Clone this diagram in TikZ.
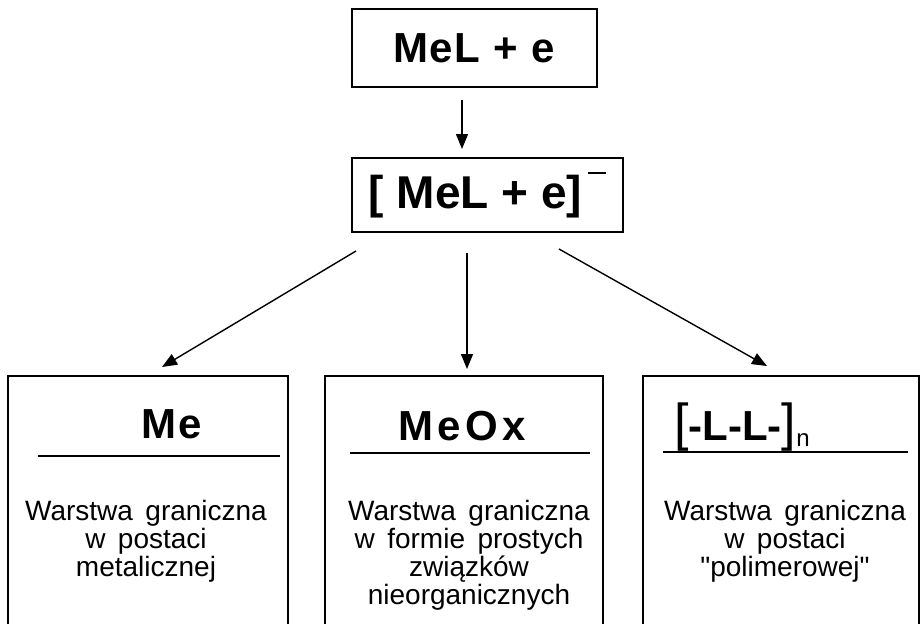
\documentclass[tikz,border=0pt]{standalone}
\usepackage{fontspec}
\setmainfont{Liberation Sans}
\newfontfamily\headfont[LetterSpace=4]{Liberation Sans}
\newfontfamily\bodyfont[WordSpace=1.6]{Liberation Sans}
\usetikzlibrary{arrows.meta}

\tikzset{
	box/.style={rectangle,draw,line width=1pt,inner sep=0pt},
	head/.style={inner sep=0pt,font=\headfont\bfseries\fontsize{21pt}{21pt}\selectfont},
	body/.style={inner sep=0pt,align=center,font=\bodyfont\fontsize{14pt}{14pt}\selectfont},
	arr/.style={-{Triangle[length=7.5pt,width=6pt]},line width=0.7pt},
}

\begin{document}
\begin{tikzpicture}[x=0.5pt,y=-0.5pt]
	\useasboundingbox (0,0) rectangle (921,623);
	\clip (0,0) rectangle (921,623);
	\node[box,minimum width=122.5pt,minimum height=39pt,font=\headfont\bfseries\fontsize{21pt}{21pt}\selectfont] (reagent) at (474,48) {MeL + e};
	\node[box,minimum width=135.5pt,minimum height=37pt,font=\bfseries\fontsize{23pt}{23pt}\selectfont] (anion) at (487.5,195) {[ MeL + e]\kern3pt\raisebox{17pt}{\rule{9pt}{0.8pt}}};
	\node[box,minimum width=140pt,minimum height=132pt] (metal) at (148,508) {};
	\node[box,minimum width=139pt,minimum height=132pt] (oxide) at (464,508) {};
	\node[box,minimum width=138pt,minimum height=132pt] (polymer) at (781,508) {};
	% titles
	\node[head,anchor=base] (metalT) at (172,438) {Me};
	\node[head,anchor=base,font=\bfseries\fontsize{21pt}{21pt}\selectfont\addfontfeature{LetterSpace=10}] (oxideT) at (462,440) {MeOx};
	\node[inner sep=0pt,anchor=base] (polymerT) at (742,440) {{\fontsize{26pt}{26pt}\selectfont[}{\bfseries\fontsize{21pt}{21pt}\selectfont-L-L-}{\fontsize{26pt}{26pt}\selectfont]}\raisebox{-3pt}{\fontsize{12pt}{12pt}\selectfont n}};
	\draw[line width=1pt] (38,456) -- (280,456);
	\draw[line width=1pt] (350,453) -- (590,453);
	\draw[line width=1pt] (663,452) -- (908,452);
	% descriptions
	\node[body,anchor=north] (metalB) at (146,500) {Warstwa graniczna\\w postaci\\metalicznej};
	\node[body,anchor=north] (oxideB) at (469,500) {Warstwa graniczna\\w formie prostych\\związków\\nieorganicznych};
	\node[body,anchor=north] (polymerB) at (785,500) {Warstwa graniczna\\w postaci\\"polimerowej"};
	% draw the arrows
	\draw[arr] ([xshift=-6pt,yshift=-6pt]reagent.south) -- ([xshift=-12.75pt,yshift=4pt]anion.north);
	\draw[arr] ([xshift=2.5pt,yshift=-9pt]anion.south west) -- ([xshift=7pt,yshift=4pt]metal.north);
	\draw[arr] ([xshift=-10.25pt,yshift=-10pt]anion.south) -- ([xshift=1.5pt,yshift=3pt]oxide.north);
	\draw[arr] ([xshift=-32.5pt,yshift=-8pt]anion.south east) -- ([xshift=-7pt,yshift=4.5pt]polymer.north);
\end{tikzpicture}
\end{document}
